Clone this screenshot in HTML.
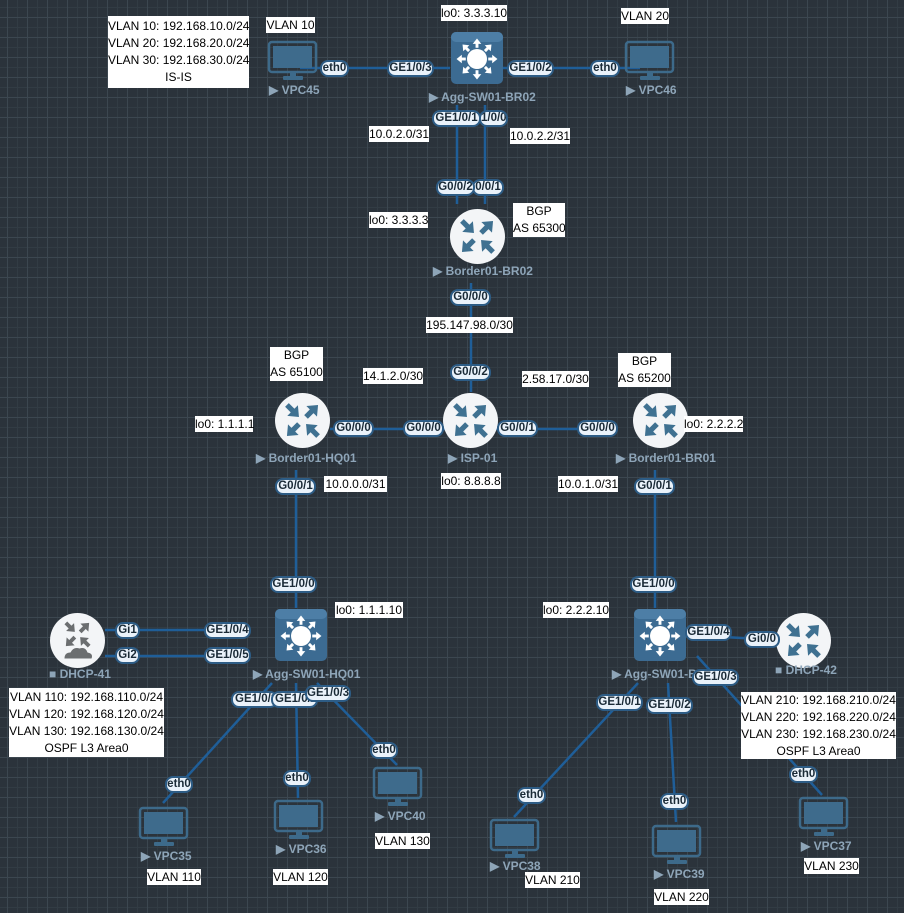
<!DOCTYPE html>
<html><head><meta charset="utf-8">
<style>
html,body{margin:0;padding:0}
body{width:904px;height:913px;position:relative;overflow:hidden;background-color:#2b333b;
background-image:
linear-gradient(#3c4750 1px,transparent 1px),
linear-gradient(90deg,#3c4750 1px,transparent 1px),
linear-gradient(#323c44 1px,transparent 1px),
linear-gradient(90deg,#323c44 1px,transparent 1px);
background-size:20px 20px,20px 20px,10px 10px,10px 10px;
background-position:0 17px,7px 0,0 7px,7px 7px;
font-family:"Liberation Sans",sans-serif}
svg{position:absolute;left:0;top:0}
.p{position:absolute;height:17px;line-height:13px;box-sizing:border-box;background:#eaf2fa;border:2px solid #2d5c85;border-radius:8px;font-weight:bold;font-size:11.5px;color:#1a2a36;text-align:center;white-space:nowrap;overflow:hidden}
.t{position:absolute;background:#fff;color:#000;font-size:12px;line-height:16px;text-align:center;white-space:nowrap}
.n{position:absolute;color:#8ea5b8;font-weight:bold;font-size:12px;white-space:nowrap}
</style></head><body>
<svg width="904" height="913" viewBox="0 0 904 913">
<defs>
<g id="ar"><rect x="0" y="-2.6" width="10" height="5.2"/><polygon points="8,-7.5 17,0 8,7.5"/></g>
<g id="ar2"><rect x="0" y="-2.2" width="8" height="4.4"/><polygon points="6,-6.5 14,0 6,6.5"/></g>
<g id="router">
<circle r="27.5" fill="#f3f5f7"/>
<g fill="#3f7191">
<use href="#ar" transform="rotate(45) translate(-22,0)"/>
<use href="#ar" transform="rotate(-45) translate(5,0)"/>
<use href="#ar" transform="rotate(225) translate(-22,0)"/>
<use href="#ar" transform="rotate(135) translate(5,0)"/>
</g></g>
<g id="dhcp">
<circle r="27.5" fill="#f3f5f7"/>
<g fill="#6b6e70" transform="translate(0,-6) scale(0.75)">
<use href="#ar" transform="rotate(45) translate(-22,0)"/>
<use href="#ar" transform="rotate(-45) translate(5,0)"/>
<use href="#ar" transform="rotate(225) translate(-22,0)"/>
<use href="#ar" transform="rotate(135) translate(5,0)"/>
</g>
<path d="M-13,18 q0,-6 6,-6 q3,-6 9,-4 q6,-2 8,4 q6,1 4,6 z" fill="#6b6e70"/>
</g>
<g id="sw">
<rect x="0" y="0" width="52" height="52" rx="5" fill="#3c6b92"/>
<rect x="0" y="0" width="52" height="10" rx="5" fill="#4d7ea6"/>
<g transform="translate(26,27)" fill="#fff">
<circle r="10"/>
<g transform="scale(0.66)">
<use href="#ar2" transform="rotate(0) translate(17,0)"/>
<use href="#ar2" transform="rotate(45) translate(17,0)"/>
<use href="#ar2" transform="rotate(90) translate(17,0)"/>
<use href="#ar2" transform="rotate(135) translate(17,0)"/>
<use href="#ar2" transform="rotate(180) translate(17,0)"/>
<use href="#ar2" transform="rotate(225) translate(17,0)"/>
<use href="#ar2" transform="rotate(270) translate(17,0)"/>
<use href="#ar2" transform="rotate(315) translate(17,0)"/>
</g></g></g>
<g id="pc">
<rect x="1" y="1" width="47" height="30" rx="3" fill="none" stroke="#3d6a8a" stroke-width="2.5"/>
<rect x="5" y="5" width="39" height="22" fill="#3e6b8c"/>
<rect x="22" y="32" width="6" height="4" fill="#3d6a8a"/>
<rect x="15" y="35" width="20" height="4" rx="1" fill="#3d6a8a"/>
</g>
</defs>
<g stroke="#1f5e98" stroke-width="2.5" fill="none">
<line x1="300" y1="68" x2="450" y2="68"/>
<line x1="502" y1="68" x2="640" y2="68"/>
<line x1="457" y1="105" x2="457" y2="204"/>
<line x1="485" y1="105" x2="485" y2="204"/>
<line x1="471" y1="283" x2="471" y2="392"/>
<line x1="330" y1="429" x2="610" y2="429"/>
<line x1="296" y1="470" x2="296" y2="608"/>
<line x1="655" y1="470" x2="655" y2="608"/>
<line x1="105" y1="630" x2="250" y2="630"/>
<line x1="105" y1="656" x2="250" y2="656"/>
<line x1="272" y1="683" x2="163" y2="803"/>
<line x1="296" y1="683" x2="298" y2="798"/>
<line x1="317" y1="683" x2="397" y2="765"/>
<line x1="638" y1="683" x2="514" y2="817"/>
<line x1="668" y1="683" x2="676" y2="822"/>
<line x1="697" y1="656" x2="822" y2="795"/>
<line x1="686" y1="635" x2="780" y2="640"/>
</g>
<use href="#sw" x="451" y="32"/>
<use href="#sw" x="275" y="609"/>
<use href="#sw" x="634" y="609"/>
<use href="#router" transform="translate(477.5,236.5)"/>
<use href="#router" transform="translate(470.5,420.5)"/>
<use href="#router" transform="translate(302.5,420.5)"/>
<use href="#router" transform="translate(660.5,420.5)"/>
<use href="#dhcp" transform="translate(77.5,640.5)"/>
<use href="#router" transform="translate(803.5,640.5)"/>
<use href="#pc" x="268" y="41"/>
<use href="#pc" x="625" y="41"/>
<use href="#pc" x="139" y="807"/>
<use href="#pc" x="274" y="800"/>
<use href="#pc" x="373" y="767"/>
<use href="#pc" x="490" y="819"/>
<use href="#pc" x="652" y="825"/>
<use href="#pc" x="799" y="797"/>
</svg>

<div class="n" style="left:269px;top:83px">▶ VPC45</div>
<div class="n" style="left:626px;top:83px">▶ VPC46</div>
<div class="n" style="left:429px;top:90px">▶ Agg-SW01-BR02</div>
<div class="n" style="left:433px;top:264px">▶ Border01-BR02</div>
<div class="n" style="left:256px;top:451px">▶ Border01-HQ01</div>
<div class="n" style="left:448px;top:451px">▶ ISP-01</div>
<div class="n" style="left:616px;top:451px">▶ Border01-BR01</div>
<div class="n" style="left:253px;top:667px">▶ Agg-SW01-HQ01</div>
<div class="n" style="left:612px;top:667px">▶ Agg-SW01-BR01</div>
<div class="n" style="left:49px;top:667px">■ DHCP-41</div>
<div class="n" style="left:775px;top:663px">■ DHCP-42</div>
<div class="n" style="left:141px;top:849px">▶ VPC35</div>
<div class="n" style="left:276px;top:842px">▶ VPC36</div>
<div class="n" style="left:375px;top:809px">▶ VPC40</div>
<div class="n" style="left:490px;top:859px">▶ VPC38</div>
<div class="n" style="left:654px;top:867px">▶ VPC39</div>
<div class="n" style="left:801px;top:839px">▶ VPC37</div>

<div class="p" style="left:320px;top:60px;width:29px">eth0</div>
<div class="p" style="left:387px;top:60px;width:47px">GE1/0/3</div>
<div class="p" style="left:507px;top:60px;width:47px">GE1/0/2</div>
<div class="p" style="left:590px;top:60px;width:30px">eth0</div>
<div class="p" style="left:479px;top:110px;width:29px">1/0/0</div>
<div class="p" style="left:432px;top:110px;width:49px">GE1/0/1</div>
<div class="p" style="left:472px;top:179px;width:32px">0/0/1</div>
<div class="p" style="left:436px;top:179px;width:39px">G0/0/2</div>
<div class="p" style="left:450px;top:289px;width:41px">G0/0/0</div>
<div class="p" style="left:450px;top:364px;width:41px">G0/0/2</div>
<div class="p" style="left:333px;top:420px;width:41px">G0/0/0</div>
<div class="p" style="left:403px;top:420px;width:41px">G0/0/0</div>
<div class="p" style="left:497px;top:420px;width:41px">G0/0/1</div>
<div class="p" style="left:577px;top:420px;width:41px">G0/0/0</div>
<div class="p" style="left:275px;top:478px;width:41px">G0/0/1</div>
<div class="p" style="left:634px;top:478px;width:41px">G0/0/1</div>
<div class="p" style="left:270px;top:576px;width:47px">GE1/0/0</div>
<div class="p" style="left:630px;top:576px;width:47px">GE1/0/0</div>
<div class="p" style="left:115px;top:622px;width:25px">Gi1</div>
<div class="p" style="left:115px;top:647px;width:25px">Gi2</div>
<div class="p" style="left:204px;top:622px;width:47px">GE1/0/4</div>
<div class="p" style="left:204px;top:647px;width:47px">GE1/0/5</div>
<div class="p" style="left:231px;top:691px;width:47px;text-align:left;padding-left:2px">GE1/0/1</div>
<div class="p" style="left:271px;top:691px;width:47px;text-align:left;padding-left:2px">GE1/0/2</div>
<div class="p" style="left:305px;top:685px;width:46px">GE1/0/3</div>
<div class="p" style="left:165px;top:776px;width:28px">eth0</div>
<div class="p" style="left:283px;top:770px;width:28px">eth0</div>
<div class="p" style="left:370px;top:742px;width:28px">eth0</div>
<div class="p" style="left:685px;top:624px;width:47px">GE1/0/4</div>
<div class="p" style="left:744px;top:631px;width:36px">Gi0/0</div>
<div class="p" style="left:692px;top:669px;width:47px">GE1/0/3</div>
<div class="p" style="left:596px;top:694px;width:47px">GE1/0/1</div>
<div class="p" style="left:646px;top:697px;width:47px">GE1/0/2</div>
<div class="p" style="left:517px;top:787px;width:29px">eth0</div>
<div class="p" style="left:660px;top:793px;width:29px">eth0</div>
<div class="p" style="left:789px;top:766px;width:29px">eth0</div>

<div class="t" style="left:108px;top:16px;width:141px;height:72px;line-height:17px;padding-top:2px;box-sizing:border-box">VLAN 10: 192.168.10.0/24<br>VLAN 20: 192.168.20.0/24<br>VLAN 30: 192.168.30.0/24<br>IS-IS</div>
<div class="t" style="left:266px;top:17px;width:49px">VLAN 10</div>
<div class="t" style="left:441px;top:5px;width:66px">lo0: 3.3.3.10</div>
<div class="t" style="left:621px;top:8px;width:48px">VLAN 20</div>
<div class="t" style="left:369px;top:126px;width:60px">10.0.2.0/31</div>
<div class="t" style="left:510px;top:128px;width:60px">10.0.2.2/31</div>
<div class="t" style="left:369px;top:212px;width:59px">lo0: 3.3.3.3</div>
<div class="t" style="left:513px;top:203px;width:52px;height:34px;line-height:17px">BGP<br>AS 65300</div>
<div class="t" style="left:426px;top:317px;width:87px">195.147.98.0/30</div>
<div class="t" style="left:270px;top:347px;width:53px;height:34px;line-height:17px">BGP<br>AS 65100</div>
<div class="t" style="left:363px;top:368px;width:60px">14.1.2.0/30</div>
<div class="t" style="left:522px;top:371px;width:67px">2.58.17.0/30</div>
<div class="t" style="left:618px;top:353px;width:53px;height:34px;line-height:17px">BGP<br>AS 65200</div>
<div class="t" style="left:195px;top:416px;width:58px">lo0: 1.1.1.1</div>
<div class="t" style="left:684px;top:416px;width:59px">lo0: 2.2.2.2</div>
<div class="t" style="left:324px;top:476px;width:63px">10.0.0.0/31</div>
<div class="t" style="left:441px;top:473px;width:60px">lo0: 8.8.8.8</div>
<div class="t" style="left:558px;top:476px;width:60px">10.0.1.0/31</div>
<div class="t" style="left:335px;top:602px;width:68px">lo0: 1.1.1.10</div>
<div class="t" style="left:543px;top:602px;width:66px">lo0: 2.2.2.10</div>
<div class="t" style="left:9px;top:688px;width:155px;height:69px;line-height:17px;padding-top:1px;box-sizing:border-box">VLAN 110: 192.168.110.0/24<br>VLAN 120: 192.168.120.0/24<br>VLAN 130: 192.168.130.0/24<br>OSPF L3 Area0</div>
<div class="t" style="left:741px;top:692px;width:155px;height:67px;line-height:17px;padding-top:0px;box-sizing:border-box">VLAN 210: 192.168.210.0/24<br>VLAN 220: 192.168.220.0/24<br>VLAN 230: 192.168.230.0/24<br>OSPF L3 Area0</div>
<div class="t" style="left:375px;top:833px;width:55px">VLAN 130</div>
<div class="t" style="left:147px;top:869px;width:54px">VLAN 110</div>
<div class="t" style="left:273px;top:869px;width:55px">VLAN 120</div>
<div class="t" style="left:525px;top:872px;width:55px">VLAN 210</div>
<div class="t" style="left:654px;top:889px;width:55px">VLAN 220</div>
<div class="t" style="left:804px;top:858px;width:55px">VLAN 230</div>
</body></html>
